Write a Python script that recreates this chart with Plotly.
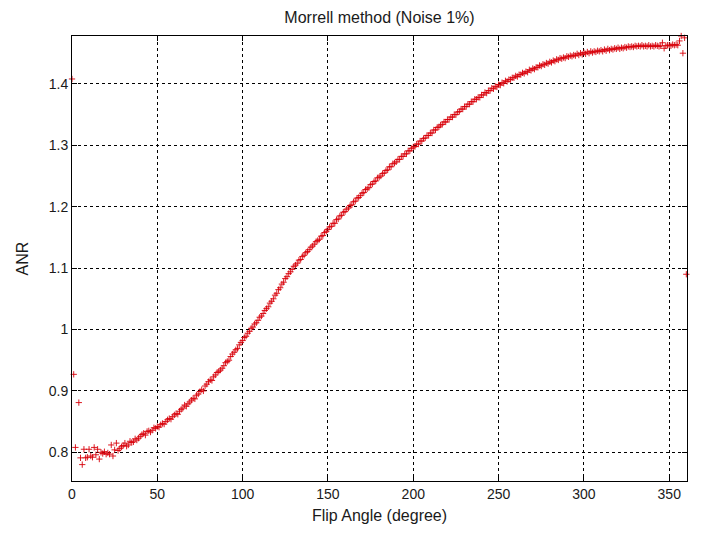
import plotly.graph_objects as go

# Flip angle in degrees (one sample per degree)
flip_angle = list(range(0, 361))

# ANR values
anr = [
    1.408, 0.927, 0.808, 0.753, 0.881, 0.791, 0.780, 0.805, 0.791, 0.792,
    0.805, 0.794, 0.792, 0.808, 0.796, 0.805, 0.789, 0.800, 0.798, 0.801,
    0.797, 0.799, 0.797, 0.812, 0.794, 0.804, 0.815, 0.803, 0.806, 0.809,
    0.811, 0.815, 0.810, 0.812, 0.818, 0.816, 0.817, 0.822, 0.820, 0.823,
    0.826, 0.829, 0.831, 0.828, 0.834, 0.835, 0.833, 0.836, 0.840, 0.839,
    0.842, 0.841, 0.845, 0.847, 0.846, 0.850, 0.853, 0.855, 0.854, 0.858,
    0.861, 0.863, 0.862, 0.867, 0.870, 0.872, 0.877, 0.875, 0.879, 0.882,
    0.885, 0.888, 0.887, 0.893, 0.895, 0.899, 0.902, 0.900, 0.908, 0.911,
    0.915, 0.918, 0.917, 0.923, 0.926, 0.930, 0.932, 0.934, 0.937, 0.941,
    0.946, 0.948, 0.950, 0.956, 0.960, 0.963, 0.967, 0.969, 0.975, 0.979,
    0.982, 0.987, 0.989, 0.994, 0.997, 1.002, 1.004, 1.009, 1.011, 1.015,
    1.020, 1.022, 1.026, 1.031, 1.034, 1.037, 1.043, 1.046, 1.050, 1.056,
    1.059, 1.065, 1.068, 1.074, 1.077, 1.083, 1.086, 1.091, 1.094, 1.098,
    1.103, 1.105, 1.108, 1.113, 1.114, 1.119, 1.121, 1.125, 1.127, 1.130,
    1.134, 1.136, 1.139, 1.143, 1.145, 1.147, 1.152, 1.153, 1.158, 1.160,
    1.163, 1.167, 1.168, 1.173, 1.173, 1.179, 1.180, 1.185, 1.186, 1.191,
    1.192, 1.196, 1.198, 1.202, 1.203, 1.208, 1.209, 1.214, 1.215, 1.218,
    1.222, 1.223, 1.228, 1.229, 1.231, 1.236, 1.237, 1.241, 1.242, 1.247,
    1.248, 1.250, 1.254, 1.255, 1.259, 1.260, 1.265, 1.265, 1.270, 1.271,
    1.273, 1.277, 1.277, 1.282, 1.282, 1.286, 1.286, 1.291, 1.291, 1.295,
    1.297, 1.298, 1.302, 1.302, 1.307, 1.307, 1.311, 1.312, 1.316, 1.316,
    1.320, 1.320, 1.325, 1.325, 1.329, 1.330, 1.333, 1.334, 1.338, 1.338,
    1.342, 1.342, 1.346, 1.346, 1.350, 1.350, 1.354, 1.355, 1.359, 1.359,
    1.363, 1.363, 1.367, 1.367, 1.371, 1.371, 1.375, 1.375, 1.378, 1.378,
    1.382, 1.382, 1.386, 1.385, 1.389, 1.389, 1.393, 1.392, 1.396, 1.395,
    1.399, 1.398, 1.402, 1.401, 1.405, 1.404, 1.407, 1.407, 1.410, 1.410,
    1.413, 1.412, 1.415, 1.415, 1.418, 1.417, 1.420, 1.419, 1.423, 1.422,
    1.425, 1.424, 1.427, 1.427, 1.430, 1.429, 1.432, 1.431, 1.434, 1.433,
    1.436, 1.435, 1.438, 1.437, 1.440, 1.439, 1.442, 1.441, 1.443, 1.442,
    1.445, 1.444, 1.446, 1.445, 1.447, 1.446, 1.449, 1.447, 1.450, 1.448,
    1.451, 1.449, 1.452, 1.450, 1.453, 1.451, 1.453, 1.452, 1.454, 1.453,
    1.455, 1.453, 1.456, 1.454, 1.457, 1.455, 1.457, 1.456, 1.458, 1.457,
    1.459, 1.457, 1.459, 1.458, 1.460, 1.459, 1.461, 1.460, 1.461, 1.460,
    1.462, 1.461, 1.462, 1.461, 1.463, 1.461, 1.462, 1.461, 1.463, 1.461,
    1.462, 1.461, 1.463, 1.462, 1.461, 1.462, 1.467, 1.458, 1.462, 1.463,
    1.463, 1.462, 1.464, 1.463, 1.464, 1.463, 1.470, 1.478, 1.450, 1.475,
    1.090,
]

x_ticks = [0, 50, 100, 150, 200, 250, 300, 350]
y_ticks = [0.8, 0.9, 1.0, 1.1, 1.2, 1.3, 1.4]
y_tick_text = ["0.8", "0.9", "1", "1.1", "1.2", "1.3", "1.4"]

FONT = "Liberation Sans, Arial, sans-serif"

fig = go.Figure()
fig.add_trace(go.Scatter(
    x=flip_angle, y=anr, mode="markers",
    marker=dict(symbol="cross-thin-open", size=4.5, color="#d8000a",
                line=dict(color="#d8000a", width=0.9)),
    cliponaxis=False, showlegend=False,
))

axis_common = dict(
    showline=True, linecolor="black", linewidth=1, mirror="allticks",
    ticks="inside", ticklen=5, tickcolor="black", tickwidth=1,
    showgrid=True, gridcolor="black", gridwidth=1, griddash="3px,3px",
    zeroline=False,
    tickfont=dict(family=FONT, size=14, color="#1a1a1a"),
)

fig.update_layout(
    width=710, height=534,
    margin=dict(l=72, r=23, t=36, b=53),
    paper_bgcolor="white", plot_bgcolor="white",
    title=dict(text="Morrell method (Noise 1%)", x=0.5345, xanchor="center",
               y=0.968, yanchor="middle",
               font=dict(family=FONT, size=16, color="#1a1a1a")),
    xaxis=dict(range=[0, 360.4], tickvals=x_ticks,
               title=dict(text="Flip Angle (degree)", standoff=9,
                          font=dict(family=FONT, size=16, color="#1a1a1a")),
               **axis_common),
    yaxis=dict(range=[0.7533, 1.478], tickvals=y_ticks, ticktext=y_tick_text,
               title=dict(text="ANR", standoff=16,
                          font=dict(family=FONT, size=16, color="#1a1a1a")),
               **axis_common),
)

fig.write_html("out.html")
